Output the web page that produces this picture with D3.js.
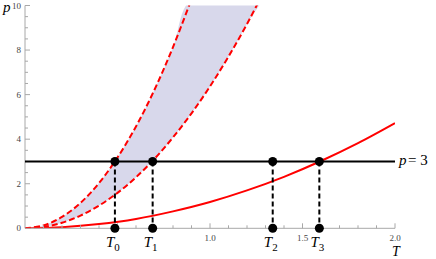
<!DOCTYPE html>
<meta charset="utf-8">
<style>
body { margin: 0; background: #fff; }
.tick-label { font-family: "Times New Roman", "Liberation Serif", "DejaVu Serif", serif; font-size: 9px; fill: #444; }
.math { font-family: "Times New Roman", "Liberation Serif", "DejaVu Serif", serif; font-style: italic; fill: #000; }
</style>
<svg width="436" height="259"></svg>
<script src="https://d3js.org/d3.v7.min.js"></script>
<script>

// curves (T, p)
var solidT = [0, 0.2, 0.4, 0.6, 0.8, 1.0, 1.2, 1.4, 1.6, 1.8, 2.0];
var solidP = [0, 0.05, 0.19, 0.42, 0.76, 1.18, 1.70, 2.31, 3.02, 3.82, 4.72];

var upperT = [0, 0.1, 0.2, 0.3, 0.4, 0.5, 0.6, 0.7, 0.8, 0.9];
var upperP = [0, 0.13, 0.51, 1.14, 2.03, 3.18, 4.57, 6.22, 8.13, 10.29];

var lowerT = [0, 0.1, 0.2, 0.3, 0.4, 0.5, 0.6, 0.7, 0.8, 0.9, 1.0, 1.1, 1.2, 1.3];
var lowerP = [0, 0.06, 0.25, 0.57, 1.02, 1.59, 2.29, 3.12, 4.08, 5.16, 6.37, 7.71, 9.17, 10.77];

var pLevel = 3;
var markT = [0.486, 0.69, 1.339, 1.591];
var markNames = ["0", "1", "2", "3"];

var xMajor = [1.0, 1.5, 2.0];
var yMajor = [0, 2, 4, 6, 8, 10];

var svg = d3.select("svg");

var x = d3.scaleLinear().domain([0, 2]).range([25, 395]);
var y = d3.scaleLinear().domain([0, 10]).range([228.3, 5.5]);

svg.append("clipPath").attr("id", "plot")
  .append("rect")
    .attr("x", x(0)).attr("y", y(10))
    .attr("width", x(2) - x(0)).attr("height", y(0) - y(10));

var plot = svg.append("g").attr("clip-path", "url(#plot)");

function pts(ts, ps) { return ts.map(function(t, i) { return [t, ps[i]]; }); }

var line = d3.line()
    .x(function(d) { return x(d[0]); })
    .y(function(d) { return y(d[1]); })
    .curve(d3.curveCatmullRom);

// shaded band between the dashed curves
var upper = pts(upperT, upperP), lower = pts(lowerT, lowerP);
var band = upper.concat(lower.slice().reverse());
plot.append("path")
    .attr("d", d3.line().x(function(d) { return x(d[0]); }).y(function(d) { return y(d[1]); })
      .curve(d3.curveCatmullRomClosed)(band))
    .attr("fill", "#d8d8eb");

// axes
var axisColor = "#a8a8a8";
var ax = svg.append("g");
ax.append("line").attr("x1", x(0)).attr("x2", x(2)).attr("y1", y(0)).attr("y2", y(0))
  .attr("stroke", axisColor);
ax.append("line").attr("x1", x(0)).attr("x2", x(0)).attr("y1", y(0)).attr("y2", y(10))
  .attr("stroke", axisColor);

d3.range(1, 21).forEach(function(i) {
  var t = i / 10, major = (i % 5 === 0);
  ax.append("line").attr("x1", x(t)).attr("x2", x(t))
    .attr("y1", y(0)).attr("y2", y(0) - (major ? 5 : 3))
    .attr("stroke", axisColor);
});
d3.range(1, 21).forEach(function(i) {
  var p = i / 2, major = (i % 4 === 0);
  ax.append("line").attr("x1", x(0)).attr("x2", x(0) + (major ? 5 : 3))
    .attr("y1", y(p)).attr("y2", y(p))
    .attr("stroke", axisColor);
});

ax.selectAll(".xl").data(xMajor).enter().append("text")
    .attr("class", "tick-label")
    .attr("x", function(d) { return x(d); })
    .attr("y", y(0) + 13)
    .attr("text-anchor", "middle")
    .text(function(d) { return d.toFixed(1); });

ax.selectAll(".yl").data(yMajor).enter().append("text")
    .attr("class", "tick-label")
    .attr("x", x(0) - 4)
    .attr("y", function(d) { return y(d) + 3; })
    .attr("text-anchor", "end")
    .text(function(d) { return d; });

// curves
plot.append("path").attr("d", line(upper))
    .attr("fill", "none").attr("stroke", "#f00").attr("stroke-width", 2)
    .attr("stroke-dasharray", "6,3");
plot.append("path").attr("d", line(lower))
    .attr("fill", "none").attr("stroke", "#f00").attr("stroke-width", 2)
    .attr("stroke-dasharray", "6,3");
plot.append("path").attr("d", line(pts(solidT, solidP)))
    .attr("fill", "none").attr("stroke", "#f00").attr("stroke-width", 2);

// level p = 3
svg.append("line").attr("x1", x(0)).attr("x2", x(2))
    .attr("y1", y(pLevel)).attr("y2", y(pLevel))
    .attr("stroke", "#000").attr("stroke-width", 2);

svg.selectAll(".drop").data(markT).enter().append("line")
    .attr("x1", function(d) { return x(d); }).attr("x2", function(d) { return x(d); })
    .attr("y1", y(pLevel)).attr("y2", y(0))
    .attr("stroke", "#000").attr("stroke-width", 2).attr("stroke-dasharray", "5,3");

[pLevel, 0].forEach(function(p) {
  svg.selectAll(null).data(markT).enter().append("circle")
      .attr("cx", function(d) { return x(d); })
      .attr("cy", y(p))
      .attr("r", 4.5)
      .attr("fill", "#000");
});

// T_i labels
var tl = svg.selectAll(".tl").data(markT).enter().append("text")
    .attr("class", "math")
    .attr("x", function(d) { return x(d) - 2; })
    .attr("y", y(0) + 19)
    .attr("text-anchor", "middle")
    .attr("font-size", 15);
tl.append("tspan").text("T");
tl.append("tspan").attr("dy", 4).attr("font-size", 11).attr("font-style", "normal")
    .text(function(d, i) { return markNames[i]; });

svg.append("text").attr("class", "math").attr("font-size", 15)
    .attr("x", x(2) + 4).attr("y", y(pLevel) + 4)
    .text("p");
svg.append("text").attr("class", "tick-label").style("font-size", "15px")
    .style("fill", "#000")
    .attr("x", x(2) + 13).attr("y", y(pLevel) + 4)
    .text("= 3");

svg.append("text").attr("class", "math").attr("font-size", 15)
    .attr("x", 3).attr("y", 12).text("p");
svg.append("text").attr("class", "math").attr("font-size", 14)
    .attr("x", 392).attr("y", 256).text("T");

</script>
